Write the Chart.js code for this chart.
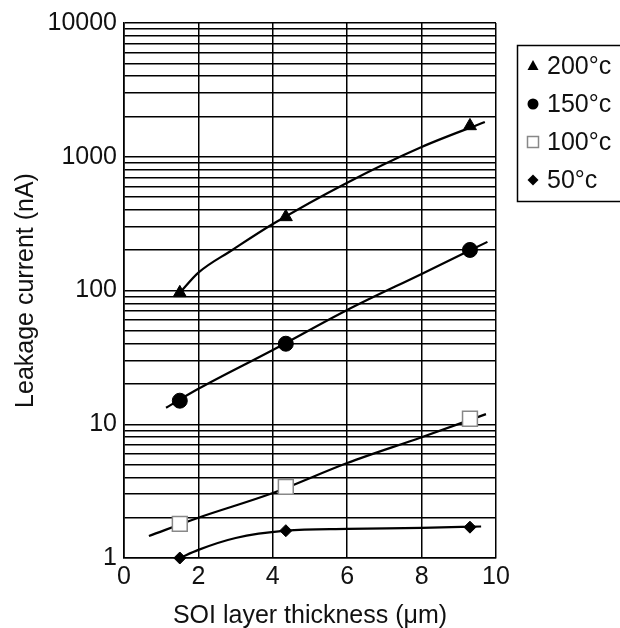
<!DOCTYPE html>
<html>
<head>
<meta charset="utf-8">
<script src="https://cdn.jsdelivr.net/npm/chart.js@4/dist/chart.umd.min.js"></script>
<style>
  html, body { margin: 0; padding: 0; background: #fff; }
  #wrap { width: 620px; height: 628px; position: relative; }
</style>
</head>
<body>
<div id="wrap"><canvas id="c" width="620" height="628"></canvas></div>
<script>
// ---- data ----
const seriesLabels = ['200°c', '150°c', '100°c', '50°c'];
const thickness = [1.5, 4.35, 9.3];
const i200 = [96, 355, 1700];
const i150 = [15, 40, 201];
const i100 = [1.8, 3.4, 11];
const i50  = [1.0, 1.6, 1.7];

// fitted curves
const curve200X = [1.5, 2, 2.9, 4, 6, 8, 9.7];
const curve200Y = [96, 136, 200, 314, 640, 1183, 1820];
const curve150X = [1.13, 2, 4, 6, 8, 9.77];
const curve150Y = [13.3, 18.4, 35.9, 71.5, 133, 231];
const curve100X = [0.67, 2, 4, 6, 8, 9.73];
const curve100Y = [1.46, 2.0, 3.06, 5.13, 8.0, 11.9];
const curve50X  = [1.5, 2, 3, 4.35, 6, 8, 9.6];
const curve50Y  = [1.0, 1.15, 1.41, 1.6, 1.65, 1.68, 1.72];

const xTicks = [0, 2, 4, 6, 8, 10];
const decades = [1, 10, 100, 1000, 10000];
const minorSteps = [1, 2, 3, 4, 5, 6, 7, 8, 9];

const xTitle = 'SOI layer thickness (μm)';
const yTitle = 'Leakage current (nA)';

// ---- build ----
const pts = (xs, ys) => xs.map((x, i) => ({ x: x, y: ys[i] }));
const yTickValues = [];
decades.forEach((d, k) => {
  if (k === decades.length - 1) { yTickValues.push(d); return; }
  minorSteps.forEach(m => yTickValues.push(m * d));
});

const FONT = "'Liberation Sans', Arial, sans-serif";
const INK = '#111';

function curve(xs, ys) {
  return {
    type: 'line', data: pts(xs, ys), borderColor: '#000', borderWidth: 2.2,
    pointRadius: 0, cubicInterpolationMode: 'monotone', fill: false, order: 2, clip: false
  };
}
function markers(label, ys, style, radius, bg, border, bw) {
  return {
    type: 'line', label: label, data: pts(thickness, ys), showLine: false,
    pointStyle: style, pointRadius: radius, pointBackgroundColor: bg,
    pointBorderColor: border, pointBorderWidth: bw, order: 1, clip: false
  };
}

const legendPlugin = {
  id: 'boxLegend',
  afterDraw(chart) {
    const ctx = chart.ctx;
    ctx.save();
    ctx.strokeStyle = '#000';
    ctx.lineWidth = 1.5;
    ctx.strokeRect(517.5, 45.5, 120, 156);
    const rows = [66, 104, 142, 180];
    const mx = 533;
    ctx.font = '25px ' + FONT;
    ctx.fillStyle = INK;
    ctx.textBaseline = 'middle';
    rows.forEach((y, i) => {
      ctx.fillText(seriesLabels[i], 547, y + 1);
    });
    ctx.fillStyle = '#000';
    ctx.beginPath();
    ctx.moveTo(mx, rows[0] - 6); ctx.lineTo(mx + 5.5, rows[0] + 4); ctx.lineTo(mx - 5.5, rows[0] + 4);
    ctx.closePath(); ctx.fill();
    ctx.beginPath(); ctx.arc(mx, rows[1], 5.5, 0, Math.PI * 2); ctx.fill();
    ctx.fillStyle = '#fff'; ctx.strokeStyle = '#888'; ctx.lineWidth = 1.5;
    ctx.fillRect(mx - 5.5, rows[2] - 5.5, 11, 11);
    ctx.strokeRect(mx - 5.5, rows[2] - 5.5, 11, 11);
    ctx.fillStyle = '#000';
    ctx.beginPath();
    ctx.moveTo(mx, rows[3] - 5.5); ctx.lineTo(mx + 5.5, rows[3]); ctx.lineTo(mx, rows[3] + 5.5); ctx.lineTo(mx - 5.5, rows[3]);
    ctx.closePath(); ctx.fill();
    ctx.restore();
  }
};

new Chart(document.getElementById('c'), {
  type: 'line',
  data: {
    datasets: [
      markers(seriesLabels[0], i200, 'triangle', 7.5, '#000', '#000', 1),
      markers(seriesLabels[1], i150, 'circle', 7.5, '#000', '#000', 1),
      markers(seriesLabels[2], i100, 'rect', 10.5, '#fff', '#888', 1.5),
      markers(seriesLabels[3], i50, 'rectRot', 6, '#000', '#000', 1),
      curve(curve200X, curve200Y),
      curve(curve150X, curve150Y),
      curve(curve100X, curve100Y),
      curve(curve50X, curve50Y)
    ]
  },
  options: {
    responsive: false,
    animation: false,
    events: [],
    layout: { padding: { left: 0, right: 124, top: 23, bottom: 0 } },
    plugins: { legend: { display: false }, tooltip: { enabled: false } },
    scales: {
      x: {
        type: 'linear', min: 0, max: 10,
        afterFit: s => { s.height = 70; },
        afterBuildTicks: s => { s.ticks = xTicks.map(v => ({ value: v })); },
        grid: { color: '#000', lineWidth: 1.5, drawTicks: false },
        border: { color: '#000', width: 1.6 },
        ticks: { font: { size: 25, family: FONT }, color: INK, padding: 4, maxRotation: 0, autoSkip: false },
        title: { display: true, text: xTitle, font: { size: 25, family: FONT }, color: INK, padding: { top: 0, bottom: -3 } }
      },
      y: {
        type: 'logarithmic', min: 1, max: 10000,
        afterFit: s => { s.width = 124; },
        afterBuildTicks: s => { s.ticks = yTickValues.map(v => ({ value: v })); },
        grid: { color: '#000', lineWidth: 1.5, drawTicks: false },
        border: { color: '#000', width: 1.6 },
        ticks: {
          font: { size: 25, family: FONT }, color: INK, padding: 7, autoSkip: false,
          callback: v => decades.includes(v) ? String(v) : ''
        },
        title: { display: true, text: yTitle, font: { size: 25, family: FONT }, color: INK, padding: { top: 11, bottom: 0 } }
      }
    }
  },
  plugins: [legendPlugin]
});
</script>
</body>
</html>
